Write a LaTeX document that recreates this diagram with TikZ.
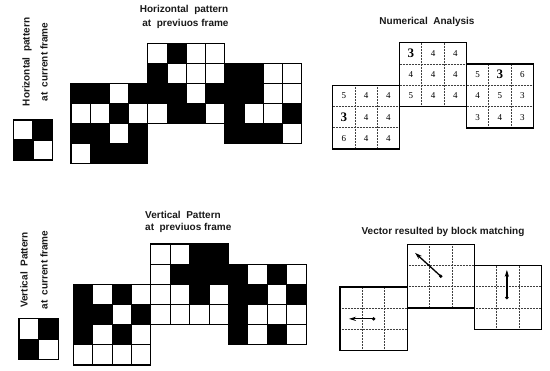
\documentclass[tikz,border=0pt]{standalone}
\usepackage{fontspec}
\setmainfont{Liberation Serif}
\newfontfamily\labfont{Liberation Sans}
\usetikzlibrary{arrows.meta}
\tikzset{
  lbl/.style={font=\labfont\bfseries\fontsize{10}{12}\selectfont, inner sep=0pt, text=black!90},
  gl/.style={line width=1.1pt, line cap=rect},
  numin/.style={line width=0.9pt, dash pattern=on 0.9pt off 0.6pt, black!75},
  numout/.style={line width=1.4pt, line join=miter},
  digit/.style={font=\fontsize{9}{10}\selectfont, inner sep=0pt},
  bigdigit/.style={font=\bfseries\fontsize{13}{14}\selectfont, inner sep=0pt},
  vec/.style={line width=1.3pt, -{Stealth[length=7pt,width=4.2pt]}},
  tail/.style={fill=black},
}
\begin{document}
\begin{tikzpicture}[x=1pt,y=-1pt]
\useasboundingbox (0,0) rectangle (550,371);

% ---------- labels ----------
\node[lbl, rotate=90] (hcur1) at (27,62) {Horizontal\ \ pattern};
\node[lbl, rotate=90] (hcur2) at (44,62) {at\ \ current frame};
\node[lbl] (hprev1) at (184,10) {Horizontal\ \ pattern};
\node[lbl] (hprev2) at (185.5,24) {at\ \ previuos frame};
\node[lbl] (numtitle) at (427,22) {Numerical\ \ Analysis};
\node[lbl, rotate=90] (vcur1) at (24,270) {Vertical\ \ Pattern};
\node[lbl, rotate=90] (vcur2) at (44,270) {at\ \ current frame};
\node[lbl, anchor=west] (vprev1) at (145,215) {Vertical\ \ Pattern};
\node[lbl, anchor=west] (vprev2) at (145,228) {at\ \ previuos frame};
\node[lbl] (vectitle) at (443,232) {Vector resulted by block matching};

% ---------- small current-frame patterns ----------
\begin{scope}[shift={(13.3,120)}, x=19.7pt, y=-20pt]
  \fill (1,0) rectangle ++(1,1);
  \fill (0,1) rectangle ++(1,1);
  \foreach \i in {0,1,2}{
    \draw[gl] (\i,0) -- (\i,2);
    \draw[gl] (0,\i) -- (2,\i);
  }
\end{scope}
\begin{scope}[shift={(19,318.3)}, x=19.7pt, y=-20.8pt]
  \fill (1,0) rectangle ++(1,1);
  \fill (0,1) rectangle ++(1,1);
  \foreach \i in {0,1,2}{
    \draw[gl] (\i,0) -- (\i,2);
    \draw[gl] (0,\i) -- (2,\i);
  }
\end{scope}

% ---------- horizontal pattern at previous frame ----------
\begin{scope}[shift={(71,43.3)}, x=19.22pt, y=-20pt]
  \foreach \c/\r in {0/2,1/2,3/2,2/3,0/4,1/4,3/4,1/5,2/5,3/5,
                     5/0,4/1,4/2,5/2,7/2,5/3,6/3,
                     8/1,9/1,8/2,9/2,8/3,11/3,8/4,9/4,10/4}
    \fill (\c,\r) rectangle ++(1,1);
  \foreach \bx/\by in {0/2,4/0,8/1}{
    \foreach \i in {0,...,4}{
      \draw[gl] (\bx+\i,\by) -- (\bx+\i,\by+4);
      \draw[gl] (\bx,\by+\i) -- (\bx+4,\by+\i);
    }
  }
\end{scope}

% ---------- vertical pattern at previous frame ----------
\begin{scope}[shift={(73.3,244)}, x=19.4pt, y=-20.17pt]
  \foreach \c/\r in {0/2,2/2,0/3,1/3,3/3,0/4,2/4,
                     6/0,7/0,5/1,6/1,7/1,6/2,
                     8/1,10/1,8/2,9/2,11/2,8/3,8/4,10/4}
    \fill (\c,\r) rectangle ++(1,1);
  \foreach \bx/\by in {0/2,4/0,8/1}{
    \foreach \i in {0,...,4}{
      \draw[gl] (\bx+\i,\by) -- (\bx+\i,\by+4);
      \draw[gl] (\bx,\by+\i) -- (\bx+4,\by+\i);
    }
  }
\end{scope}

% ---------- numerical analysis ----------
\begin{scope}[shift={(332.7,42.7)}, x=22.3pt, y=-21.3pt]
  \foreach \bx/\by in {0/2,3/0,6/1}{
    \foreach \i in {1,2}{
      \draw[numin] (\bx+\i,\by) -- (\bx+\i,\by+3);
      \draw[numin] (\bx,\by+\i) -- (\bx+3,\by+\i);
    }
  }
  \foreach \bx/\by in {0/2,3/0,6/1}
    \draw[numout] (\bx,\by) rectangle ++(3,3);
  \foreach \c/\r/\v/\s in {0/2/5/digit,1/2/4/digit,2/2/4/digit,
                           0/3/3/bigdigit,1/3/4/digit,2/3/4/digit,
                           0/4/6/digit,1/4/4/digit,2/4/4/digit,
                           3/0/3/bigdigit,4/0/4/digit,5/0/4/digit,
                           3/1/4/digit,4/1/4/digit,5/1/4/digit,
                           3/2/5/digit,4/2/4/digit,5/2/4/digit,
                           6/1/5/digit,7/1/3/bigdigit,8/1/6/digit,
                           6/2/4/digit,7/2/5/digit,8/2/3/digit,
                           6/3/3/digit,7/3/4/digit,8/3/3/digit}
    \node[\s] (n\c\r) at (\c+0.5,\r+0.5) {\v};
\end{scope}

% ---------- vectors from block matching ----------
\begin{scope}[shift={(340,244.3)}, x=22.4pt, y=-21.3pt]
  \foreach \bx/\by in {0/2,3/0,6/1}{
    \foreach \i in {1,2}{
      \draw[numin] (\bx+\i,\by) -- (\bx+\i,\by+3);
      \draw[numin] (\bx,\by+\i) -- (\bx+3,\by+\i);
    }
  }
  \foreach \bx/\by in {0/2,3/0,6/1}
    \draw[numout] (\bx,\by) rectangle ++(3,3);
  \coordinate (lt) at (1.5,3.5);  \coordinate (lh) at (0.4,3.5);
  \coordinate (mt) at (4.5,1.5);  \coordinate (mh) at (3.35,0.4);
  \coordinate (rt) at (7.45,2.5); \coordinate (rh) at (7.45,1.2);
  \draw[vec] (lt) -- (lh);
  \draw[vec] (mt) -- (mh);
  \draw[vec] (rt) -- (rh);
  \fill[tail] (lt) circle (1.9pt);
  \fill[tail] (mt) circle (1.9pt);
  \fill[tail] (rt) circle (1.9pt);
\end{scope}
\end{tikzpicture}
\end{document}
